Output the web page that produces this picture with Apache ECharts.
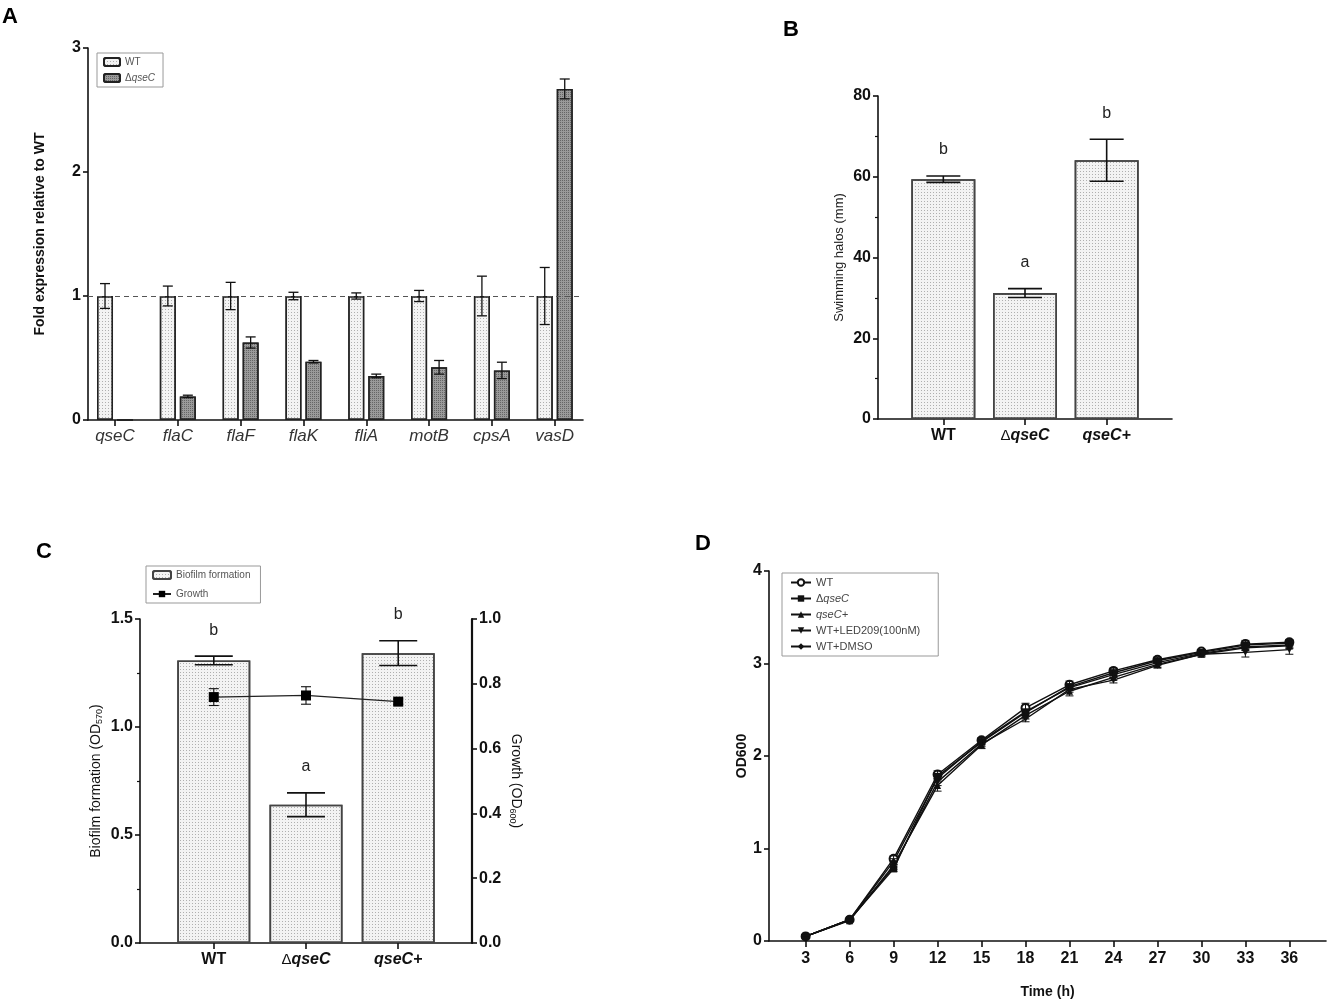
<!DOCTYPE html>
<html>
<head>
<meta charset="utf-8">
<script src="https://cdn.jsdelivr.net/npm/echarts@6/dist/echarts.min.js"></script>
<style>html,body{margin:0;padding:0;background:#fff}#c{width:1329px;height:1002px}</style>
</head>
<body>
<div id="c"></div>
<script>
// ---------- DATA ----------
const genesA = ['qseC','flaC','flaF','flaK','fliA','motB','cpsA','vasD'];
const wtA = [1,1,1,1,1,1,1,1];
const wtErrA = [0.10,0.08,0.11,0.03,0.025,0.045,0.16,0.23];
const mutA = [0,0.19,0.625,0.47,0.355,0.425,0.40,2.67];
const mutErrA = [0,0.01,0.045,0.01,0.015,0.055,0.066,0.08];
const refLineA = 1;

const strainsBC = ['WT','ΔqseC','qseC+'];
const swimB = [59.4,31.2,64.1];
const swimErrB = [0.8,1.1,5.2];
const lettersB = ['b','a','b'];

const biofilmC = [1.308,0.64,1.342];
const biofilmErrC = [0.02,0.055,0.057];
const growthC = [0.759,0.764,0.745];
const growthErrC = [0.026,0.027,0.008];
const lettersC = ['b','a','b'];

const timeD = [3,6,9,12,15,18,21,24,27,30,33,36];
const wtD   = [0.05,0.23,0.89,1.80,2.17,2.52,2.77,2.92,3.04,3.13,3.21,3.23];
const mutD  = [0.05,0.23,0.78,1.78,2.15,2.47,2.75,2.90,3.03,3.12,3.20,3.22];
const compD = [0.05,0.22,0.82,1.68,2.12,2.44,2.70,2.85,2.99,3.10,3.17,3.19];
const ledD  = [0.05,0.23,0.80,1.72,2.13,2.40,2.72,2.82,2.98,3.10,3.12,3.15];
const dmsoD = [0.05,0.23,0.86,1.76,2.16,2.48,2.74,2.88,3.01,3.11,3.18,3.20];
const wtErrD   = [0.01,0.01,0.03,0.04,0.03,0.05,0.04,0.03,0.03,0.02,0.04,0.03];
const mutErrD  = [0.01,0.01,0.03,0.03,0.03,0.03,0.03,0.03,0.02,0.02,0.03,0.03];
const compErrD = [0.01,0.01,0.03,0.06,0.04,0.04,0.05,0.03,0.03,0.03,0.03,0.03];
const ledErrD  = [0.01,0.01,0.03,0.04,0.03,0.03,0.03,0.03,0.03,0.02,0.05,0.05];
const dmsoErrD = [0.01,0.01,0.03,0.04,0.03,0.03,0.03,0.03,0.03,0.02,0.03,0.03];
const namesD = ['WT','ΔqseC','qseC+','WT+LED209(100nM)','WT+DMSO'];

// ---------- HELPERS ----------
const FONT = 'Liberation Sans, Arial, Helvetica, sans-serif';
const AX = '#111';
const lightFill = {color:'#f3f3f3', decal:{symbol:'rect', symbolSize:1, dashArrayX:[1,2], dashArrayY:[1,2], color:'rgba(0,0,0,0.28)'}};
const darkFill = {color:'#9a9a9a', decal:{symbol:'rect', symbolSize:1, dashArrayX:[1,1], dashArrayY:[1,1], color:'rgba(40,40,40,0.45)'}};

function errSeries(xi, yi, xs, vals, errs, offsetPx, capPx, lw) {
  return {
    type:'custom', xAxisIndex:xi, yAxisIndex:yi, silent:true, z:6,
    data: vals.map((v,i)=>[xs[i], v, errs[i]]),
    encode:{x:0, y:1},
    renderItem:(p, api)=>{
      const x = api.value(0), v = api.value(1), e = api.value(2);
      if (!e) return null;
      const t = api.coord([x, v+e]), b = api.coord([x, v-e]);
      const cx = t[0] + offsetPx;
      const st = {stroke:'#111', lineWidth:lw||1.3};
      return {type:'group', children:[
        {type:'line', shape:{x1:cx,y1:t[1],x2:cx,y2:b[1]}, style:st},
        {type:'line', shape:{x1:cx-capPx,y1:t[1],x2:cx+capPx,y2:t[1]}, style:st},
        {type:'line', shape:{x1:cx-capPx,y1:b[1],x2:cx+capPx,y2:b[1]}, style:st}
      ]};
    }
  };
}
function letterSeries(xi, yi, vals, errs, letters, lift) {
  return {
    type:'custom', xAxisIndex:xi, yAxisIndex:yi, silent:true, z:6,
    data: vals.map((v,i)=>[i, v, errs[i]]),
    encode:{x:0, y:1},
    renderItem:(p, api)=>{
      const pt = api.coord([api.value(0), api.value(1)+api.value(2)]);
      return {type:'text', x:pt[0], y:pt[1]-lift,
        style:{text:letters[p.dataIndex], fontSize:16, fontFamily:FONT, fill:'#222', align:'center', verticalAlign:'middle'}};
    }
  };
}
const strainLabel = s => s.startsWith('Δ') ? '{d|Δ}{bi|' + s.slice(1) + '}' : (s.startsWith('qse') ? '{bi|' + s + '}' : '{b|' + s + '}');
const strainRich = {
  b:{fontWeight:'bold', fontSize:16, fontFamily:FONT, color:'#111'},
  bi:{fontWeight:'bold', fontStyle:'italic', fontSize:16, fontFamily:FONT, color:'#111'},
  d:{fontSize:15, fontFamily:FONT, color:'#111'}
};
const axisLineStyle = {show:true, onZero:false, lineStyle:{color:AX, width:1.6}};
const tickStyle = {show:true, length:5, lineStyle:{color:AX, width:1.6}};
const yLabel = {fontWeight:'bold', fontSize:16, fontFamily:FONT, color:'#111', margin:7};

// ---------- OPTION ----------
const option = {
  animation:false,
  backgroundColor:'#fff',
  textStyle:{fontFamily:FONT},
  grid:[
    {left:88, top:48, width:495, height:372},
    {left:878, top:96, width:294, height:323},
    {left:140, top:619, width:332, height:324},
    {left:769, top:571, width:557, height:370}
  ],
  graphic:[
    {type:'text', left:2, top:6, style:{text:'A', fontSize:22, fontWeight:'bold', fontFamily:FONT, fill:'#000'}},
    {type:'text', left:783, top:19, style:{text:'B', fontSize:22, fontWeight:'bold', fontFamily:FONT, fill:'#000'}},
    {type:'text', left:36, top:541, style:{text:'C', fontSize:22, fontWeight:'bold', fontFamily:FONT, fill:'#000'}},
    {type:'text', left:695, top:533, style:{text:'D', fontSize:22, fontWeight:'bold', fontFamily:FONT, fill:'#000'}}
  ],
  legend:[
    {data:['A_WT','A_mut'], left:97, top:53, orient:'vertical', borderColor:'#999', borderWidth:1, padding:[4,8,4,6],
     itemWidth:16, itemHeight:8, itemGap:6,
     formatter:n => n==='A_WT' ? '{n|WT}' : '{n|Δ}{i|qseC}',
     textStyle:{rich:{n:{fontSize:10, color:'#555', fontFamily:FONT}, i:{fontSize:10, fontStyle:'italic', color:'#555', fontFamily:FONT}}}},
    {data:['C_bio','C_growth'], left:146, top:566, orient:'vertical', borderColor:'#999', borderWidth:1, padding:[4,10,4,6],
     itemWidth:18, itemHeight:8, itemGap:9,
     formatter:n => n==='C_bio' ? 'Biofilm formation' : 'Growth',
     textStyle:{fontSize:10, color:'#555', fontFamily:FONT}},
    {data:['D0','D1','D2','D3','D4'], left:782, top:573, orient:'vertical', borderColor:'#999', borderWidth:1, padding:[4,18,4,8],
     itemWidth:20, itemHeight:8, itemGap:5,
     formatter:n => { const s = namesD[+n.slice(1)]; return s.startsWith('Δ') ? '{n|Δ}{i|' + s.slice(1) + '}' : (s.startsWith('qse') ? '{i|' + s + '}' : '{n|' + s + '}'); },
     textStyle:{rich:{n:{fontSize:11, color:'#444', fontFamily:FONT}, i:{fontSize:11, fontStyle:'italic', color:'#444', fontFamily:FONT}}}}
  ],
  xAxis:[
    {gridIndex:0, type:'value', min:-0.43, max:7.45,
     axisLine:axisLineStyle, axisTick:Object.assign({customValues:genesA.map((g,i)=>i)}, tickStyle, {length:6}),
     axisLabel:{customValues:genesA.map((g,i)=>i), formatter:v => genesA[v], fontStyle:'italic', fontSize:17, color:'#333', fontFamily:FONT, margin:8},
     splitLine:{show:false}},
    {gridIndex:1, type:'value', min:-0.8, max:2.8,
     axisLine:axisLineStyle, axisTick:Object.assign({customValues:[0,1,2]}, tickStyle, {length:6}),
     axisLabel:{customValues:[0,1,2], formatter:v => strainLabel(strainsBC[v]), rich:strainRich, margin:9},
     splitLine:{show:false}},
    {gridIndex:2, type:'value', min:-0.8, max:2.8,
     axisLine:axisLineStyle, axisTick:Object.assign({customValues:[0,1,2]}, tickStyle, {length:6}),
     axisLabel:{customValues:[0,1,2], formatter:v => strainLabel(strainsBC[v]), rich:strainRich, margin:9},
     splitLine:{show:false}},
    {gridIndex:3, type:'value', min:0.5, max:38.5,
     axisLine:axisLineStyle, axisTick:Object.assign({customValues:timeD}, tickStyle, {length:6}),
     axisLabel:{customValues:timeD, fontWeight:'bold', fontSize:16, color:'#111', fontFamily:FONT, margin:10},
     splitLine:{show:false},
     name:'Time (h)', nameLocation:'middle', nameGap:44, nameTextStyle:{fontWeight:'bold', fontSize:14, color:'#111', fontFamily:FONT}}
  ],
  yAxis:[
    {gridIndex:0, type:'value', min:0, max:3, interval:1, axisLine:axisLineStyle, axisTick:tickStyle, axisLabel:yLabel, splitLine:{show:false},
     name:'Fold expression relative to WT', nameLocation:'middle', nameGap:41, nameTextStyle:{fontWeight:'bold', fontSize:14, color:'#111', fontFamily:FONT}},
    {gridIndex:1, type:'value', min:0, max:80, interval:20, axisLine:axisLineStyle, axisTick:tickStyle,
     minorTick:{show:true, splitNumber:2, length:3, lineStyle:{color:AX, width:1.2}}, axisLabel:yLabel, splitLine:{show:false},
     name:'Swimming halos (mm)', nameLocation:'middle', nameGap:32, nameTextStyle:{fontSize:13, color:'#222', fontFamily:FONT}},
    {gridIndex:2, type:'value', min:0, max:1.5, interval:0.5, axisLine:axisLineStyle, axisTick:tickStyle,
     minorTick:{show:true, splitNumber:2, length:3, lineStyle:{color:AX, width:1.2}},
     axisLabel:Object.assign({}, yLabel, {formatter:v => v.toFixed(1)}), splitLine:{show:false},
     name:'{t|Biofilm formation (OD}{s|570}{t|)}', nameLocation:'middle', nameGap:36,
     nameTextStyle:{rich:{t:{fontSize:14, color:'#111', fontFamily:FONT}, s:{fontSize:9, color:'#111', fontFamily:FONT, padding:[6,0,0,0]}}}},
    {gridIndex:2, type:'value', position:'right', min:0, max:1, interval:0.2, axisLine:{show:true, onZero:false, lineStyle:{color:AX, width:2.2}}, axisTick:tickStyle,
     axisLabel:Object.assign({}, yLabel, {formatter:v => v.toFixed(1)}), splitLine:{show:false},
     name:'{t|Growth (OD}{s|600}{t|)}', nameLocation:'middle', nameGap:36, nameRotate:-90,
     nameTextStyle:{rich:{t:{fontSize:14, color:'#111', fontFamily:FONT}, s:{fontSize:9, color:'#111', fontFamily:FONT, padding:[6,0,0,0]}}}},
    {gridIndex:3, type:'value', min:0, max:4, interval:1, axisLine:axisLineStyle, axisTick:tickStyle, axisLabel:yLabel, splitLine:{show:false},
     name:'OD600', nameLocation:'middle', nameGap:20, nameTextStyle:{fontWeight:'bold', fontSize:14, color:'#111', fontFamily:FONT}}
  ],
  series:[
    // Panel A
    {name:'A_WT', type:'bar', xAxisIndex:0, yAxisIndex:0, barWidth:16, barGap:'25%',
     data:wtA.map((v,i)=>[i,v]), itemStyle:Object.assign({borderColor:'#222', borderWidth:1.4}, lightFill),
     markLine:{silent:true, symbol:'none', label:{show:false}, lineStyle:{color:'#555', type:[5,4], width:1.2}, data:[{yAxis:refLineA}]}},
    {name:'A_mut', type:'bar', xAxisIndex:0, yAxisIndex:0, barWidth:16, barGap:'25%',
     data:mutA.map((v,i)=>[i,v]), itemStyle:Object.assign({borderColor:'#222', borderWidth:1.4}, darkFill)},
    errSeries(0,0, genesA.map((g,i)=>i), wtA, wtErrA, -10, 5),
    errSeries(0,0, genesA.map((g,i)=>i), mutA, mutErrA, 10, 5),
    // Panel B
    {name:'B_swim', type:'bar', xAxisIndex:1, yAxisIndex:1, barWidth:64,
     data:swimB.map((v,i)=>[i,v]), itemStyle:Object.assign({borderColor:'#444', borderWidth:1.6}, lightFill)},
    errSeries(1,1, [0,1,2], swimB, swimErrB, 0, 17, 1.6),
    letterSeries(1,1, swimB, swimErrB, lettersB, 26),
    // Panel C
    {name:'C_bio', type:'bar', xAxisIndex:2, yAxisIndex:2, barWidth:73,
     data:biofilmC.map((v,i)=>[i,v]), itemStyle:Object.assign({borderColor:'#444', borderWidth:1.6}, lightFill)},
    errSeries(2,2, [0,1,2], biofilmC, biofilmErrC, 0, 19, 1.6),
    letterSeries(2,2, biofilmC, biofilmErrC, lettersC, 26),
    {name:'C_growth', type:'line', xAxisIndex:2, yAxisIndex:3, z:7,
     data:growthC.map((v,i)=>[i,v]), symbol:'rect', symbolSize:10,
     lineStyle:{color:'#222', width:1.3}, itemStyle:{color:'#000'}},
    errSeries(2,3, [0,1,2], growthC, growthErrC, 0, 5, 1.1),
    // Panel D
    ...[[wtD, wtErrD, 'emptyCircle', 0], [mutD, mutErrD, 'rect', 0], [compD, compErrD, 'triangle', 0],
        [ledD, ledErrD, 'triangle', 180], [dmsoD, dmsoErrD, 'diamond', 0]].flatMap((s, k) => [
      {name:'D'+k, type:'line', xAxisIndex:3, yAxisIndex:4, z:5,
       data:s[0].map((v,i)=>[timeD[i], v]), symbol:s[2], symbolRotate:s[3], symbolSize:k===0?8:7,
       lineStyle:{color:'#111', width:1.4}, itemStyle:{color:'#111', borderColor:'#111', borderWidth:k===0?1.5:0}},
      errSeries(3,4, timeD, s[0], s[1], 0, 4, 1)
    ])
  ]
};
const chart = echarts.init(document.getElementById('c'), null, {renderer:'canvas'});
chart.setOption(option);
</script>
</body>
</html>
